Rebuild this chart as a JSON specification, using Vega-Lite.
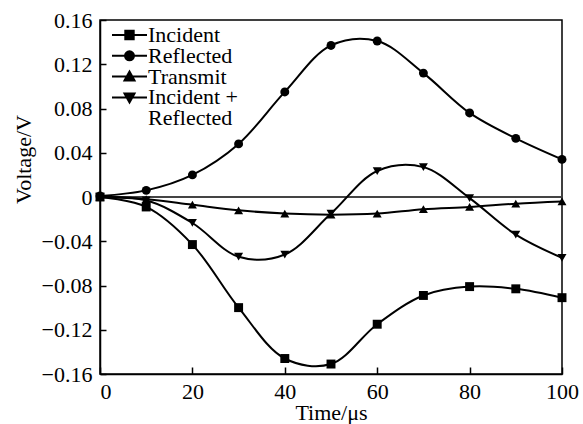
{
  "$schema": "https://vega.github.io/schema/vega-lite/v6.json",
  "width": 462,
  "height": 354,
  "autosize": "none",
  "padding": {"left": 100, "top": 20, "right": 21, "bottom": 50},
  "background": "white",
  "config": {
    "view": {"stroke": "black", "strokeWidth": 1.5},
    "font": "Liberation Serif",
    "style": {"guide-label": {"lineHeight": 20.8}},
    "axis": {
      "grid": false,
      "domainColor": "black",
      "domainWidth": 1.5,
      "tickColor": "black",
      "tickWidth": 1.5,
      "labelColor": "black",
      "titleColor": "black",
      "labelFont": "Liberation Serif",
      "titleFont": "Liberation Serif",
      "labelFontSize": 22,
      "titleFontSize": 22,
      "titleFontWeight": "normal"
    },
    "legend": {
      "labelFont": "Liberation Serif",
      "labelFontSize": 22,
      "labelColor": "black"
    }
  },
  "resolve": {"scale": {"shape": "independent"}, "legend": {"shape": "independent"}},
  "data": {
    "values": [
      {"t": 0, "v": 0, "s": "Incident"},
      {"t": 10, "v": -0.009, "s": "Incident"},
      {"t": 20, "v": -0.043, "s": "Incident"},
      {"t": 30, "v": -0.1, "s": "Incident"},
      {"t": 40, "v": -0.146, "s": "Incident"},
      {"t": 50, "v": -0.151, "s": "Incident"},
      {"t": 60, "v": -0.115, "s": "Incident"},
      {"t": 70, "v": -0.089, "s": "Incident"},
      {"t": 80, "v": -0.081, "s": "Incident"},
      {"t": 90, "v": -0.083, "s": "Incident"},
      {"t": 100, "v": -0.091, "s": "Incident"},
      {"t": 0, "v": 0.001, "s": "Reflected"},
      {"t": 10, "v": 0.006, "s": "Reflected"},
      {"t": 20, "v": 0.02, "s": "Reflected"},
      {"t": 30, "v": 0.048, "s": "Reflected"},
      {"t": 40, "v": 0.095, "s": "Reflected"},
      {"t": 50, "v": 0.137, "s": "Reflected"},
      {"t": 60, "v": 0.141, "s": "Reflected"},
      {"t": 70, "v": 0.112, "s": "Reflected"},
      {"t": 80, "v": 0.076, "s": "Reflected"},
      {"t": 90, "v": 0.053, "s": "Reflected"},
      {"t": 100, "v": 0.034, "s": "Reflected"},
      {"t": 0, "v": 0, "s": "Transmit"},
      {"t": 10, "v": -0.002, "s": "Transmit"},
      {"t": 20, "v": -0.007, "s": "Transmit"},
      {"t": 30, "v": -0.012, "s": "Transmit"},
      {"t": 40, "v": -0.015, "s": "Transmit"},
      {"t": 50, "v": -0.016, "s": "Transmit"},
      {"t": 60, "v": -0.015, "s": "Transmit"},
      {"t": 70, "v": -0.011, "s": "Transmit"},
      {"t": 80, "v": -0.009, "s": "Transmit"},
      {"t": 90, "v": -0.006, "s": "Transmit"},
      {"t": 100, "v": -0.004, "s": "Transmit"},
      {"t": 0, "v": 0, "s": "Incident + Reflected"},
      {"t": 10, "v": -0.003, "s": "Incident + Reflected"},
      {"t": 20, "v": -0.0235, "s": "Incident + Reflected"},
      {"t": 30, "v": -0.054, "s": "Incident + Reflected"},
      {"t": 40, "v": -0.052, "s": "Incident + Reflected"},
      {"t": 50, "v": -0.015, "s": "Incident + Reflected"},
      {"t": 60, "v": 0.0235, "s": "Incident + Reflected"},
      {"t": 70, "v": 0.027, "s": "Incident + Reflected"},
      {"t": 80, "v": -0.001, "s": "Incident + Reflected"},
      {"t": 90, "v": -0.034, "s": "Incident + Reflected"},
      {"t": 100, "v": -0.055, "s": "Incident + Reflected"}
    ]
  },
  "layer": [
    {
      "mark": {"type": "rule", "color": "#444444", "strokeWidth": 1},
      "encoding": {
        "y": {"datum": 0, "type": "quantitative", "scale": {"domain": [-0.16, 0.16], "nice": false, "zero": false}}
      }
    },
    {
      "mark": {"type": "line", "interpolate": "catmull-rom", "color": "black", "strokeWidth": 2},
      "encoding": {
        "x": {
          "field": "t", "type": "quantitative",
          "scale": {"domain": [0, 100], "nice": false},
          "axis": {
            "values": [0, 20, 40, 60, 80, 100],
            "tickSize": -7,
            "labelPadding": 14,
            "labelFlush": false,
            "labelAlign": {"condition": {"test": "datum.value == 0", "value": "left"}, "value": "center"},
            "title": "Time/μs",
            "titlePadding": 0
          }
        },
        "y": {
          "field": "v", "type": "quantitative",
          "scale": {"domain": [-0.16, 0.16], "nice": false, "zero": false},
          "axis": {
            "values": [-0.16, -0.12, -0.08, -0.04, 0, 0.04, 0.08, 0.12, 0.16],
            "tickSize": -6,
            "labelPadding": 14,
            "labelFlush": false,
            "labelExpr": "datum.value == 0 ? '0' : format(datum.value, '.2f')",
            "title": "Voltage/V",
            "titleX": -77,
            "titleY": 139,
            "titleBaseline": "middle"
          }
        },
        "detail": {"field": "s"}
      }
    },
    {
      "mark": {"type": "point", "filled": true, "color": "black", "opacity": 1, "size": 80},
      "encoding": {
        "x": {"field": "t", "type": "quantitative"},
        "y": {"field": "v", "type": "quantitative"},
        "shape": {
          "field": "s", "type": "nominal",
          "scale": {
            "domain": ["Incident", "Reflected", "Transmit", "Incident + Reflected"],
            "range": ["square", "circle", "triangle-up", "triangle-down"]
          },
          "legend": null
        }
      }
    },
    {
      "transform": [{"filter": "false"}],
      "mark": {"type": "point", "filled": false, "fill": "black", "stroke": "black", "strokeWidth": 2, "opacity": 1},
      "encoding": {
        "x": {"field": "t", "type": "quantitative"},
        "y": {"field": "v", "type": "quantitative"},
        "shape": {
          "field": "s", "type": "nominal",
          "scale": {
            "domain": ["Incident"],
            "range": [
              "M-17.5,10H17.5M-4.2,5.8H4.2V14.2H-4.2ZM-17.5,30.8H17.5M-4.5,30.8A4.5,4.5,0,1,0,4.5,30.8A4.5,4.5,0,1,0,-4.5,30.8ZM-17.5,51.6H17.5M0,46.6L5,55.4L-5,55.4ZM-17.5,72.4H17.5M0,77.4L5,68.6L-5,68.6Z"
            ]
          },
          "legend": {
            "title": null,
            "orient": "none",
            "legendX": 18.5,
            "legendY": -6,
            "padding": 0,
            "symbolSize": 4,
            "symbolStrokeWidth": 2,
            "rowPadding": 0,
            "labelOffset": 7.5,
            "labelBaseline": "top",
            "labelLimit": 300,
            "labelExpr": "['Incident', 'Reflected', 'Transmit', 'Incident +', 'Reflected']"
          }
        }
      }
    }
  ]
}
